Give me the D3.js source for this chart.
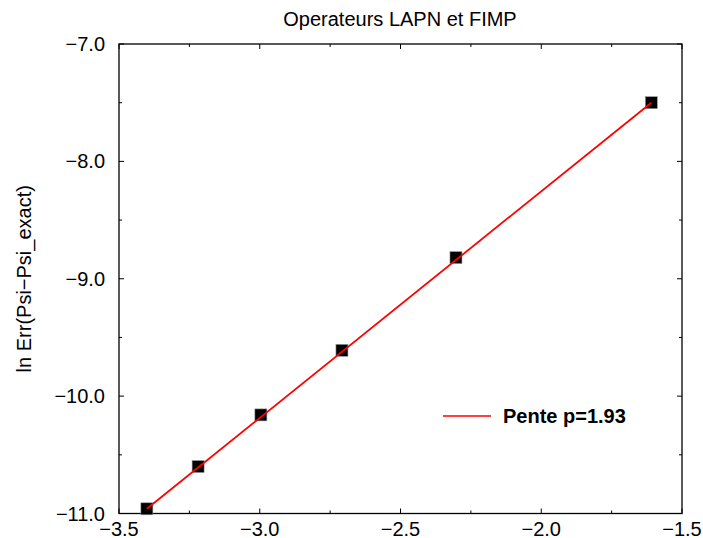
<!DOCTYPE html>
<meta charset="utf-8">
<style>
  body { margin: 0; background: #fff; }
  svg { font-family: "Liberation Sans", Arial, sans-serif; }
</style>
<svg id="svg" width="703" height="538"></svg>
<script src="https://d3js.org/d3.v7.min.js"></script>
<script>

// ---------------------------------------------------------------
//                             DATA
// ---------------------------------------------------------------
var xValues = [-3.401, -3.219, -2.996, -2.708, -2.303, -1.609];
var yValues = [-10.96, -10.60, -10.16, -9.61, -8.82, -7.50];

// fitted line end points
var fitX = [-3.401, -1.609];
var fitY = [-10.96, -7.50];

var xTicks = [-3.5, -3.0, -2.5, -2.0, -1.5];
var yTicks = [-11.0, -10.0, -9.0, -8.0, -7.0];
var xMinor = [-3.25, -2.75, -2.25, -1.75];
var yMinor = [-10.5, -9.5, -8.5, -7.5];

var title = "Operateurs LAPN et FIMP";
var yTitle = "ln Err(Psi\u2212Psi_exact)";
var legendLabel = "Pente p=1.93";

// ---------------------------------------------------------------
//                             CHART
// ---------------------------------------------------------------
var svg = d3.select("svg");
// plot frame (note: "top" is taken by window.top)
var x0 = 119, x1 = 682, y0 = 44, y1 = 513.5;

var x = d3.scaleLinear().domain([-3.5, -1.5]).range([x0, x1]);
var y = d3.scaleLinear().domain([-11, -7]).range([y1, y0]);

var fmt = function(d) { return d3.format(".1f")(d).replace("-", "\u2212"); };

// frame
svg.append("rect")
    .attr("x", x0).attr("y", y0)
    .attr("width", x1 - x0).attr("height", y1 - y0)
    .attr("fill", "none").attr("stroke", "#000").attr("stroke-width", 1.3);

// ticks (inward, on all four sides)
function xticks(vals, len) {
  vals.forEach(function(v) {
    svg.append("line").attr("x1", x(v)).attr("x2", x(v))
        .attr("y1", y1).attr("y2", y1 - len)
        .attr("stroke", "#000");
    svg.append("line").attr("x1", x(v)).attr("x2", x(v))
        .attr("y1", y0).attr("y2", y0 + len)
        .attr("stroke", "#000");
  });
}
function yticks(vals, len) {
  vals.forEach(function(v) {
    svg.append("line").attr("y1", y(v)).attr("y2", y(v))
        .attr("x1", x0).attr("x2", x0 + len)
        .attr("stroke", "#000");
    svg.append("line").attr("y1", y(v)).attr("y2", y(v))
        .attr("x1", x1).attr("x2", x1 - len)
        .attr("stroke", "#000");
  });
}
xticks(xTicks, 5); xticks(xMinor, 3);
yticks(yTicks, 5); yticks(yMinor, 3);

// tick labels
svg.selectAll(".xl").data(xTicks).enter().append("text")
    .attr("x", function(d) { return x(d); })
    .attr("y", y1 + 22)
    .attr("text-anchor", "middle")
    .attr("font-size", 20)
    .text(fmt);

svg.selectAll(".yl").data(yTicks).enter().append("text")
    .attr("x", x0 - 14)
    .attr("y", function(d) { return y(d) + 7; })
    .attr("text-anchor", "end")
    .attr("font-size", 20)
    .text(fmt);

// titles
svg.append("text")
    .attr("x", 400).attr("y", 26)
    .attr("text-anchor", "middle")
    .attr("font-size", 20)
    .text(title);

svg.append("text")
    .attr("transform", "translate(31," + ((y0 + y1) / 2) + ") rotate(-90)")
    .attr("text-anchor", "middle")
    .attr("font-size", 20)
    .text(yTitle);

// markers
var pts = xValues.map(function(v, i) { return [v, yValues[i]]; });
svg.selectAll(".pt").data(pts).enter().append("rect")
    .attr("x", function(d) { return x(d[0]) - 6; })
    .attr("y", function(d) { return y(d[1]) - 6; })
    .attr("width", 12).attr("height", 12)
    .attr("fill", "#000")
    .attr("stroke", "#999").attr("stroke-width", 0.6);

// fitted line
var line = d3.line()
    .x(function(d) { return x(d[0]); })
    .y(function(d) { return y(d[1]); });
svg.append("path")
    .datum(fitX.map(function(v, i) { return [v, fitY[i]]; }))
    .attr("d", line)
    .attr("fill", "none")
    .attr("stroke", "#ff0000")
    .attr("stroke-width", 1.8);

// legend
svg.append("line")
    .attr("x1", 443).attr("x2", 491)
    .attr("y1", 416).attr("y2", 416)
    .attr("stroke", "#ff0000").attr("stroke-width", 1.5);
svg.append("text")
    .attr("x", 503).attr("y", 423)
    .attr("font-size", 20)
    .attr("font-weight", "bold")
    .text(legendLabel);

</script>
